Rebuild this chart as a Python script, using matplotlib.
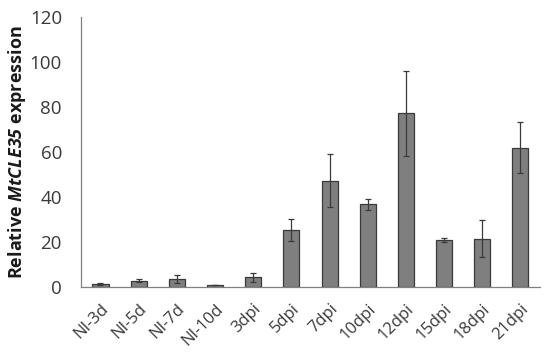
import matplotlib
matplotlib.use("Agg")
import matplotlib.pyplot as plt
import numpy as np

categories = ["NI-3d", "NI-5d", "NI-7d", "NI-10d", "3dpi", "5dpi", "7dpi",
              "10dpi", "12dpi", "15dpi", "18dpi", "21dpi"]
values = [1.2, 2.8, 3.5, 0.8, 4.3, 25.5, 47.2, 36.7, 77.2, 21.0, 21.5, 62.0]
errors = [0.3, 0.7, 1.6, 0.2, 2.0, 4.9, 11.8, 2.4, 18.9, 0.9, 8.4, 11.3]
yticks = [0, 20, 40, 60, 80, 100, 120]

plt.rcParams['font.family'] = ['Open Sans', 'DejaVu Sans']
plt.rcParams['mathtext.fontset'] = 'custom'
plt.rcParams['mathtext.bfit'] = 'Open Sans:italic:bold'
plt.rcParams['mathtext.it'] = 'Open Sans:italic'
plt.rcParams['mathtext.rm'] = 'Open Sans'

fig = plt.figure(figsize=(5.5, 3.55), dpi=100)
ax = fig.add_axes([0.148, 0.192, 0.833, 0.759])

x = np.arange(len(categories))
ax.bar(x, values, width=0.42, color='#7f7f7f', edgecolor='#3a3a3a', linewidth=0.9,
       yerr=errors, error_kw=dict(ecolor='#3a3a3a', elinewidth=0.9, capsize=2.5, capthick=0.9))

ax.set_xlim(-0.5, len(categories) - 0.5)
ax.set_ylim(0, 120)
ax.set_yticks(yticks)
ax.set_xticks(x)
ax.set_xticklabels(categories, rotation=45, ha='right', rotation_mode='anchor',
                   fontsize=12, color='#3a3a3a')
ax.tick_params(axis='y', labelsize=13.5, labelcolor='#3a3a3a', length=0, pad=14)
ax.tick_params(axis='x', length=0, pad=10)

for s in ['top', 'right']:
    ax.spines[s].set_visible(False)
for s in ['left', 'bottom']:
    ax.spines[s].set_color('#808080')
    ax.spines[s].set_linewidth(0.9)

ax.set_ylabel(r'Relative $\mathbfit{MtCLE35}$ expression', fontsize=13,
              fontweight='bold', color='#1a1a1a')
ax.yaxis.set_label_coords(-0.117, 0.5)

fig.savefig('out.png', dpi=100)
